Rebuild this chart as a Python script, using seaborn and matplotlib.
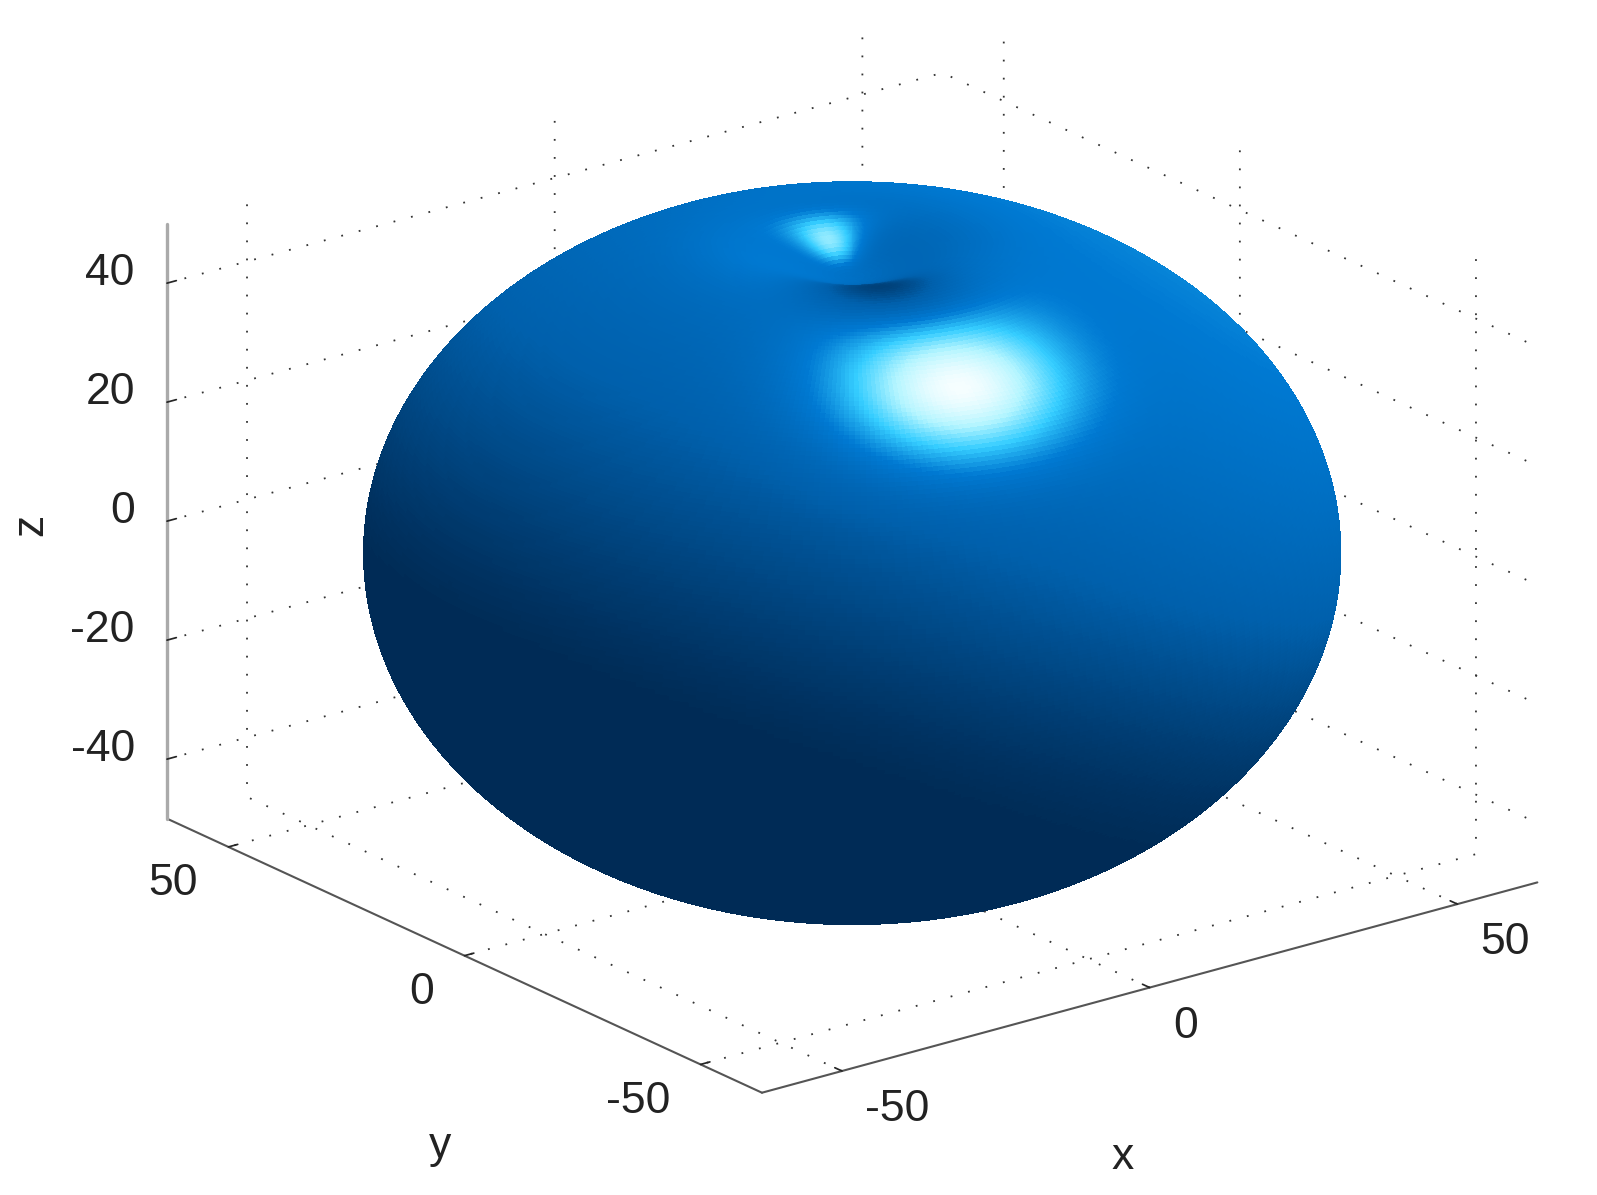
import numpy as np
import seaborn as sns
import matplotlib
matplotlib.use("Agg")
import matplotlib.pyplot as plt
from mpl_toolkits.mplot3d import proj3d

# axis ticks
x_ticks = [-50, 0, 50]
y_ticks = [-50, 0, 50]
z_ticks = [-40, -20, 0, 20, 40]
x_limits = [-63, 63]
y_limits = [-63, 63]
z_limits = [-50, 50]

# shape of the solid, measured from its outline (not a data series)
semi_axis_xy = 63.0
semi_axis_z = 55.3
dimple_depth = 9.0
dimple_width = 13.0

sns.set_theme(style="white")
plt.rcParams['font.family'] = ['Liberation Sans', 'DejaVu Sans']
plt.rcParams['grid.color'] = '#333333'
plt.rcParams['grid.linestyle'] = (0, (1, 9))
plt.rcParams['grid.linewidth'] = 1.3

fig = plt.figure(figsize=(15.97, 11.95), dpi=100)
ax = fig.add_axes([0.0235, 0.0237, 1, 1], projection='3d', proj_type='ortho')
ax.view_init(elev=20.7, azim=-127.5)
ax.set_box_aspect((126, 126, 82), zoom=1.236)

# mesh of the solid
theta = np.linspace(0.002, np.pi, 260)
phi = np.linspace(0, 2 * np.pi, 420)
theta, phi = np.meshgrid(theta, phi, indexing='ij')
rho = semi_axis_xy * np.sin(theta)
x = rho * np.cos(phi)
y = rho * np.sin(phi)
z = semi_axis_z * np.cos(theta)
z = z - dimple_depth * np.exp(-(rho / dimple_width) ** 2) * (z > 0)

# lighting, done in box space so the highlight lands where it does in the picture
z_box = z * 0.81
du = np.stack(np.gradient(np.stack([x, y, z_box]), axis=1))
dv = np.stack(np.gradient(np.stack([x, y, z_box]), axis=2))
normal = np.cross(du, dv, axis=0)
normal = normal / np.maximum(np.linalg.norm(normal, axis=0), 1e-9)
centre_dir = np.stack([x, y, z_box])
normal = normal * np.sign(np.sum(normal * centre_dir, axis=0) + 1e-9)

view_dir = np.array([-0.571, -0.74, 0.354])
spec_light = np.array([0.367, 0.088, 0.923])
diff_light = np.array([0.62, -0.05, 0.78])
half_dir = (view_dir + spec_light) / np.linalg.norm(view_dir + spec_light)
diffuse = (np.clip(np.tensordot(diff_light, normal, axes=1) + 0.5, 0, None) / 1.5) ** 1.4
specular = np.clip(np.tensordot(half_dir, normal, axes=1), 0, 1) ** 55
shade = 0.016 + 0.416 * diffuse + 0.68 * specular

# dark patch just in front of the dimple
core = np.exp(-((x + 6) ** 2 + (y + 13) ** 2) / 9.0 ** 2) * (z > 0)
shade = np.clip(shade * (1 - 0.75 * core), 0, 1)

cmap = sns.blend_palette(["#00274f", "#0060ac", "#0079d2", "#35cdff", "#b4f5ff", "#ffffff"], as_cmap=True)
ax.plot_surface(x, y, z, facecolors=cmap(shade), rcount=260, ccount=420,
                shade=False, linewidth=0, antialiased=False)

ax.set_xlim(x_limits, view_margin=0)
ax.set_ylim(y_limits, view_margin=0)
ax.set_zlim(z_limits, view_margin=0)
ax.set_xticks(x_ticks)
ax.set_yticks(y_ticks)
ax.set_zticks(z_ticks)
ax.set_xticklabels([])
ax.set_yticklabels([])
ax.set_zticklabels([])
ax.zaxis.set_ticks_position('upper')

# tick labels sit off the axes the way MATLAB placed them
proj = ax.get_proj()
label_style = dict(fontsize=32, color='#222222', va='center', transform=ax.transData)


def tick_label(px, py, pz, text, ha):
    sx, sy, _ = proj3d.proj_transform(px, py, pz, proj)
    ax.text2D(sx, sy, text, ha=ha, **label_style)


for v in x_ticks:
    tick_label(v, y_limits[0] - 4.9, z_limits[0] - 4.7, str(v), 'left')
for v in y_ticks:
    tick_label(x_limits[0] - 4.9, v, z_limits[0] - 4.8, str(v), 'right')
for v in z_ticks:
    tick_label(x_limits[0] - 1.07, y_limits[1] + 5.42, v, str(v), 'right')

ax.text2D(0.703, 0.031, 'x', transform=fig.transFigure, fontsize=32, color='#222222', ha='center', va='center')
ax.text2D(0.2755, 0.041, 'y', transform=fig.transFigure, fontsize=32, color='#222222', ha='center', va='center')
ax.text2D(0.019, 0.561, 'z', transform=fig.transFigure, fontsize=32, color='#222222', ha='center', va='center', rotation=90)

for axis in [ax.xaxis, ax.yaxis, ax.zaxis]:
    axis.set_pane_color((1, 1, 1, 0))
    axis.pane.set_edgecolor((1, 1, 1, 0))
    axis.line.set_color('#555555')
    axis.line.set_linewidth(1.5)
    axis._axinfo['tick']['inward_factor'] = 0.0
    axis._axinfo['tick']['outward_factor'] = 0.15
    axis._axinfo['tick']['color'] = '#555555'
ax.zaxis.line.set_color('#aaaaaa')
ax.zaxis.line.set_linewidth(2.4)
ax.grid(True)

fig.savefig('out.png', dpi=100)
